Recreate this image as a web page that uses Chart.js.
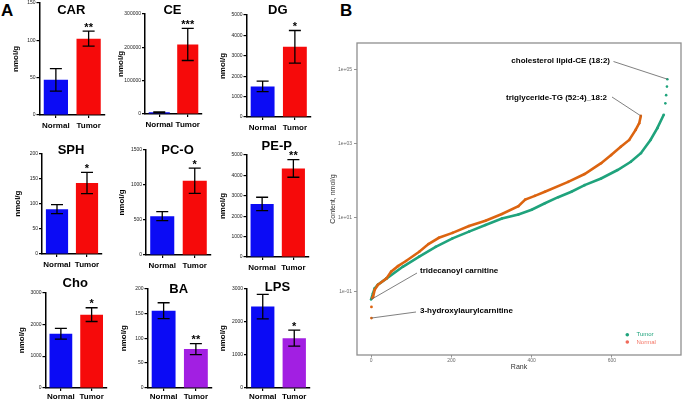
<!DOCTYPE html>
<html>
<head>
<meta charset="utf-8">
<script src="https://cdn.jsdelivr.net/npm/chart.js@4.4.1/dist/chart.umd.min.js"></script>
<style>
    html, body { margin: 0; padding: 0; background: #fff; }
    #fig { position: relative; width: 685px; height: 400px; overflow: hidden; font-family: "Liberation Sans", Arial, sans-serif; }
    #fig canvas { position: absolute; }
    .tag { position: absolute; font-weight: bold; font-size: 17px; line-height: 1; color: #000; }
</style>
</head>
<body>
<div id="fig">
    <div class="tag" style="left:1px;top:2px">A</div>
    <div class="tag" style="left:340px;top:2px">B</div>
</div>
<script>
(function () {
    'use strict';

    // ── 資料：A 面板（柱狀圖 + 誤差）───────────────────────────────────────
    var panelNames  = ['CAR', 'CE', 'DG', 'SPH', 'PC-O', 'PE-P', 'Cho', 'BA', 'LPS'];
    var groupLabels = ['Normal', 'Tumor'];
    var normalMean  = [47, 5000, 1500, 89, 555, 2600, 1700, 155, 2450];
    var normalErr   = [15, 1500, 260, 9, 65, 330, 170, 16, 370];
    var tumorMean   = [102, 208000, 3440, 141, 1060, 4340, 2300, 78, 1500];
    var tumorErr    = [10, 48000, 800, 21, 180, 430, 215, 11, 240];
    var yMax        = [150, 300000, 5000, 200, 1500, 5000, 3000, 200, 3000];
    var yStep       = [50, 100000, 1000, 50, 500, 1000, 1000, 50, 1000];
    var sigMarks    = ['**', '***', '*', '*', '*', '**', '*', '**', '*'];

    // ── 資料：B 面板（排名 vs 含量）─────────────────────────────────────────
    var tumorRank       = [0, 5, 9, 17, 38, 79, 120, 161, 203, 244, 285, 326, 367, 400, 433, 466, 499, 532, 573, 614, 647, 672, 696, 713, 729];
    var tumorContent    = [0.06, 0.089, 0.12, 0.15, 0.22, 0.46, 0.87, 1.6, 2.7, 4.1, 6.2, 9.3, 12, 16, 24, 35, 49, 74, 112, 190, 316, 540, 1230, 2570, 5900];
    var tumorTopRank    = [733, 735, 737, 738];
    var tumorTopContent = [12000, 20000, 34000, 54000];
    var normalRank      = [3, 5, 9, 17, 38, 50, 67, 87, 120, 143, 169, 203, 244, 285, 326, 367, 384, 408, 433, 491, 532, 573, 598, 622, 643, 659, 668, 672];
    var normalContent   = [0.066, 0.071, 0.11, 0.15, 0.22, 0.34, 0.48, 0.66, 1.17, 1.9, 2.8, 3.8, 5.8, 8.1, 12.3, 20, 30, 38, 49, 91, 148, 290, 480, 810, 1230, 2300, 3500, 5500];
    var normalLowRank    = [1, 1];
    var normalLowContent = [0.038, 0.019];
    var rankTicks    = [0, 200, 400, 600];
    var contentTicks = [0.1, 10, 1000, 100000];
    var annoText = ['cholesterol lipid-CE (18:2)', 'triglyceride-TG (52:4)_18:2', 'tridecanoyl carnitine', '3-hydroxylaurylcarnitine'];

    // ── 版面 / 樣式 ──────────────────────────────────────────────────────────
    var FONT = '"Liberation Sans", Arial, sans-serif';
    var NORMAL_COLOR = '#0b0bf5';
    var tumorColors  = ['#f60a0a', '#f60a0a', '#f60a0a', '#f60a0a', '#f60a0a', '#f60a0a', '#f60a0a', '#a21fe2', '#a21fe2'];
    var panelAxisX   = [39.5, 145, 246.5, 42, 146, 246.5, 45.5, 147.5, 247];
    var panelPlotW   = [65, 57, 64, 60, 65, 62, 61, 64, 63];
    var panelTopY    = [2.7, 13.7, 15, 153.3, 150, 155, 292.3, 288.3, 288.3];
    var panelBottomY = [115.3, 114.3, 116.7, 254, 255, 256.7, 387.7, 388.3, 387.7];
    var panelTitleY  = [10, 10, 10, 150, 150, 146, 283, 289, 287];
    var tickPad      = [3, 3, 3, 3, 3, 3, 1, 1, 1];
    var Y_AXIS_W = 36;
    var X_AXIS_H = 16;

    var B_LEFT = 322, B_TOP = 35, B_W = 363, B_H = 340;
    var annoLabelX = [610, 607, 420, 420];
    var annoLabelY = [61, 98, 271, 311];
    var annoAlign  = ['right', 'right', 'left', 'left'];
    var annoLineX  = [613.5, 612, 417, 416];
    var annoLineY  = [61.5, 97, 273, 312];
    var ORANGE = '#dc6410';
    var GREEN  = '#1fa37c';

    Chart.defaults.font.family = FONT;

    var fig = document.getElementById('fig');

    function addCanvas(left, top, w, h) {
        var c = document.createElement('canvas');
        c.width = w; c.height = h;
        c.style.left = left + 'px';
        c.style.top = top + 'px';
        c.style.width = w + 'px';
        c.style.height = h + 'px';
        fig.appendChild(c);
        return c;
    }

    function zip(xs, ys) {
        return xs.map(function (x, k) { return { x: x, y: ys[k] }; });
    }

    // ── A 面板：單一小圖 ─────────────────────────────────────────────────────
    function makeBar(i) {
        var cLeft = Math.round(panelAxisX[i] - Y_AXIS_W);
        var cTop  = Math.floor(Math.min(panelTopY[i], panelTitleY[i] - 9) - 3);
        var w = Y_AXIS_W + panelPlotW[i] + 6;
        var h = Math.round(panelBottomY[i] - cTop + X_AXIS_H);
        var canvas = addCanvas(cLeft, cTop, w, h);

        var extras = {
            id: 'extras' + i,
            afterDatasetsDraw: function (chart) {
                var ctx = chart.ctx;
                var ys = chart.scales.y;
                var bars = chart.getDatasetMeta(0).data;
                var means = [normalMean[i], tumorMean[i]];
                var errs  = [normalErr[i], tumorErr[i]];
                ctx.save();
                ctx.strokeStyle = '#000';
                ctx.lineWidth = 1.3;
                bars.forEach(function (bar, k) {
                    var yt = ys.getPixelForValue(means[k] + errs[k]);
                    var yb = ys.getPixelForValue(means[k] - errs[k]);
                    ctx.beginPath();
                    ctx.moveTo(bar.x, yt); ctx.lineTo(bar.x, yb);
                    ctx.moveTo(bar.x - 6, yt); ctx.lineTo(bar.x + 6, yt);
                    ctx.moveTo(bar.x - 6, yb); ctx.lineTo(bar.x + 6, yb);
                    ctx.stroke();
                });
                // 顯著性星號
                var tb = bars[1];
                var top = ys.getPixelForValue(tumorMean[i] + tumorErr[i]);
                ctx.fillStyle = '#000';
                ctx.font = 'bold 11px ' + FONT;
                ctx.textAlign = 'center';
                ctx.textBaseline = 'alphabetic';
                ctx.fillText(sigMarks[i], tb.x, top - 0.5);
                // 標題
                var ca = chart.chartArea;
                ctx.font = 'bold 13px ' + FONT;
                ctx.textBaseline = 'middle';
                ctx.fillText(panelNames[i], (ca.left + ca.right) / 2 - 1, panelTitleY[i] - cTop);
                ctx.restore();
            }
        };

        return new Chart(canvas.getContext('2d'), {
            type: 'bar',
            data: {
                labels: groupLabels,
                datasets: [{
                    data: [normalMean[i], tumorMean[i]],
                    backgroundColor: [NORMAL_COLOR, tumorColors[i]],
                    borderWidth: 0,
                    barPercentage: 0.74,
                    categoryPercentage: 1
                }]
            },
            options: {
                responsive: false,
                animation: false,
                devicePixelRatio: 1,
                layout: { padding: { top: panelTopY[i] - cTop, right: 6, left: 0, bottom: 0 } },
                plugins: { legend: { display: false }, tooltip: { enabled: false } },
                scales: {
                    x: {
                        offset: true,
                        grid: { offset: false, drawOnChartArea: false, drawTicks: true, tickLength: 3, color: '#000', lineWidth: 1.2 },
                        border: { display: true, color: '#000', width: 1.5 },
                        ticks: { font: { size: 8, weight: 'bold' }, color: '#000', padding: tickPad[i], maxRotation: 0, autoSkip: false },
                        afterFit: function (s) { s.height = X_AXIS_H; }
                    },
                    y: {
                        min: 0,
                        max: yMax[i],
                        ticks: {
                            stepSize: yStep[i],
                            font: { size: 5 },
                            color: '#222',
                            padding: 1,
                            callback: function (v) { return String(v); }
                        },
                        grid: { drawOnChartArea: false, tickLength: 3, color: '#000', lineWidth: 1.2 },
                        border: { display: true, color: '#000', width: 1.5 },
                        title: { display: true, text: 'nmol/g', font: { size: 8, weight: 'bold' }, color: '#000', padding: { top: 7, bottom: 0 } },
                        afterFit: function (s) { s.width = panelAxisX[i] - cLeft; }
                    }
                }
            },
            plugins: [extras]
        });
    }

    // ── B 面板：排名散點 ─────────────────────────────────────────────────────
    function fmtExp(v) {
        var e = Math.round(Math.log10(v));
        var a = Math.abs(e);
        return '1e' + (e < 0 ? '-' : '+') + (a < 10 ? '0' + a : String(a));
    }

    function makeRank() {
        var canvas = addCanvas(B_LEFT, B_TOP, B_W, B_H);
        var anchors = [
            [tumorTopRank[tumorTopRank.length - 1], tumorTopContent[tumorTopContent.length - 1]],
            [normalRank[normalRank.length - 1], normalContent[normalContent.length - 1]],
            [tumorRank[0], tumorContent[0]],
            [normalLowRank[1], normalLowContent[1]]
        ];

        var extras = {
            id: 'rankExtras',
            beforeDatasetsDraw: function (chart) {
                var ca = chart.chartArea;
                var ctx = chart.ctx;
                ctx.save();
                ctx.strokeStyle = '#8f8f8f';
                ctx.lineWidth = 1.3;
                ctx.strokeRect(ca.left, ca.top, ca.right - ca.left, ca.bottom - ca.top);
                ctx.restore();
            },
            afterDatasetsDraw: function (chart) {
                var ctx = chart.ctx;
                var xs = chart.scales.x, ys = chart.scales.y;
                ctx.save();
                ctx.strokeStyle = '#606060';
                ctx.lineWidth = 0.8;
                ctx.fillStyle = '#000';
                ctx.font = 'bold 8px ' + FONT;
                ctx.textBaseline = 'middle';
                anchors.forEach(function (a, k) {
                    var px = xs.getPixelForValue(a[0]);
                    var py = ys.getPixelForValue(a[1]);
                    ctx.beginPath();
                    ctx.moveTo(annoLineX[k] - B_LEFT, annoLineY[k] - B_TOP);
                    ctx.lineTo(px, py);
                    ctx.stroke();
                    ctx.textAlign = annoAlign[k];
                    ctx.fillText(annoText[k], annoLabelX[k] - B_LEFT, annoLabelY[k] - B_TOP);
                });
                // 圖例
                var legend = [['Tumor', GREEN, GREEN], ['Normal', '#f06a5a', '#f47565']];
                ctx.font = '6px ' + FONT;
                ctx.textAlign = 'left';
                legend.forEach(function (l, k) {
                    var ly = 334.7 + k * 7.3 - B_TOP;
                    ctx.fillStyle = l[1];
                    ctx.beginPath();
                    ctx.arc(627.3 - B_LEFT, ly, 1.8, 0, Math.PI * 2);
                    ctx.fill();
                    ctx.fillStyle = l[2];
                    ctx.fillText(l[0], 636.5 - B_LEFT, ly);
                });
                ctx.restore();
            }
        };

        return new Chart(canvas.getContext('2d'), {
            type: 'scatter',
            data: {
                datasets: [
                    { label: 'Normal', data: zip(normalRank, normalContent), showLine: true, borderColor: ORANGE, backgroundColor: ORANGE, borderWidth: 2.6, pointRadius: 1.3, pointBorderWidth: 0, order: 1 },
                    { label: 'Normal low', data: zip(normalLowRank, normalLowContent), showLine: false, backgroundColor: ORANGE, pointRadius: 1.4, pointBorderWidth: 0, order: 1 },
                    { label: 'Tumor', data: zip(tumorRank, tumorContent), showLine: true, borderColor: GREEN, backgroundColor: GREEN, borderWidth: 2.6, pointRadius: 1.3, pointBorderWidth: 0, order: 2 },
                    { label: 'Tumor top', data: zip(tumorTopRank, tumorTopContent), showLine: false, backgroundColor: GREEN, pointRadius: 1.3, pointBorderWidth: 0, order: 2 }
                ]
            },
            options: {
                responsive: false,
                animation: false,
                devicePixelRatio: 1,
                layout: { padding: { top: 8, right: 1, left: 0, bottom: 0 } },
                plugins: { legend: { display: false }, tooltip: { enabled: false } },
                scales: {
                    x: {
                        type: 'linear',
                        min: -35,
                        max: 772,
                        afterBuildTicks: function (s) { s.ticks = rankTicks.map(function (v) { return { value: v }; }); },
                        ticks: { font: { size: 5 }, color: '#6a6a6a', padding: 0, callback: function (v) { return String(v); } },
                        grid: { drawOnChartArea: false, tickLength: 2.5, color: '#777', lineWidth: 0.8 },
                        border: { display: false },
                        title: { display: true, text: 'Rank', font: { size: 7 }, color: '#333', padding: { top: 0, bottom: 3.8 } },
                        afterFit: function (s) { s.height = 20; }
                    },
                    y: {
                        type: 'logarithmic',
                        min: Math.pow(10, -2.72),
                        max: Math.pow(10, 5.71),
                        afterBuildTicks: function (s) { s.ticks = contentTicks.map(function (v) { return { value: v }; }); },
                        ticks: { font: { size: 5 }, color: '#6a6a6a', padding: 2, callback: function (v) { return fmtExp(v); } },
                        grid: { drawOnChartArea: false, tickLength: 3, color: '#777', lineWidth: 0.8 },
                        border: { display: false },
                        title: { display: true, text: 'Content, nmol/g', font: { size: 7 }, color: '#333', padding: { top: 7, bottom: 0 } },
                        afterFit: function (s) { s.width = 35; }
                    }
                }
            },
            plugins: [extras]
        });
    }

    // ── 初始化 ────────────────────────────────────────────────────────────────
    panelNames.forEach(function (n, i) { makeBar(i); });
    makeRank();
})();
</script>
</body>
</html>
